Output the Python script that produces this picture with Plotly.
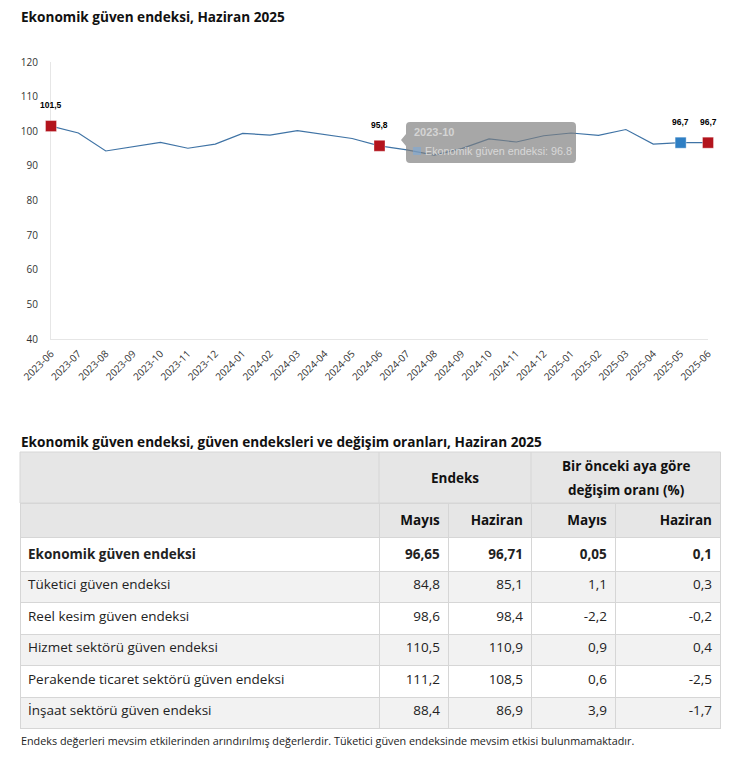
import plotly.graph_objects as go

W, H = 743, 764

# ---------------- data ----------------
months = ["2023-06", "2023-07", "2023-08", "2023-09", "2023-10", "2023-11", "2023-12",
          "2024-01", "2024-02", "2024-03", "2024-04", "2024-05", "2024-06", "2024-07",
          "2024-08", "2024-09", "2024-10", "2024-11", "2024-12", "2025-01", "2025-02",
          "2025-03", "2025-04", "2025-05", "2025-06"]
values = [101.5, 99.5, 94.3, 95.5, 96.8, 95.1, 96.3,
          99.4, 98.9, 100.2, 99.0, 97.9, 95.8, 94.6,
          93.1, 95.0, 97.8, 96.9, 98.7, 99.5, 98.8,
          100.5, 96.3, 96.7, 96.7]
highlight_idx = [0, 12, 23, 24]
highlight_colors = ["#b3141d", "#b3141d", "#2f7fc4", "#b3141d"]
tooltip_idx = 4

row_labels = ["Ekonomik güven endeksi", "Tüketici güven endeksi", "Reel kesim güven endeksi",
              "Hizmet sektörü güven endeksi", "Perakende ticaret sektörü güven endeksi",
              "İnşaat sektörü güven endeksi"]
endeks_mayis = [96.65, 84.8, 98.6, 110.5, 111.2, 88.4]
endeks_haziran = [96.71, 85.1, 98.4, 110.9, 108.5, 86.9]
degisim_mayis = [0.05, 1.1, -2.2, 0.9, 0.6, 3.9]
degisim_haziran = [0.1, 0.3, -0.2, 0.4, -2.5, -1.7]
sub_headers = ["", "Mayıs", "Haziran", "Mayıs", "Haziran"]
group_headers = ["Endeks", "Bir önceki aya göre<br>değişim oranı (%)"]

chart_title = "Ekonomik güven endeksi, Haziran 2025"
table_title = "Ekonomik güven endeksi, güven endeksleri ve değişim oranları, Haziran 2025"
footnote = ("Endeks değerleri mevsim etkilerinden arındırılmış değerlerdir. "
            "Tüketici güven endeksinde mevsim etkisi bulunmamaktadır.")

# ---------------- helpers (pixel -> paper) ----------------
def px(x):
    return x / W


def py(y):
    return 1 - y / H


FONT = "Open Sans"
TFS = 13.5  # table font size
TABLE_TOP = 503
fig = go.Figure()

# line
fig.add_trace(go.Scatter(x=months, y=values, mode="lines",
                         line=dict(color="#3f73a5", width=1.2),
                         hoverinfo="skip", showlegend=False, cliponaxis=False))
# highlighted markers
fig.add_trace(go.Scatter(x=[months[i] for i in highlight_idx],
                         y=[values[i] for i in highlight_idx],
                         mode="markers",
                         marker=dict(symbol="square", size=11, color=highlight_colors,
                                     line=dict(width=1, color="rgba(255,255,255,0.35)")),
                         hoverinfo="skip", showlegend=False, cliponaxis=False))

annotations = []
for i in highlight_idx:
    annotations.append(dict(x=months[i], y=values[i], xref="x", yref="y",
                            text="<b>" + f"{values[i]:.1f}".replace(".", ",") + "</b>",
                            showarrow=False, yshift=21, xanchor="center", yanchor="middle",
                            font=dict(family="Liberation Sans", size=8.5, color="#000")))

# table
def fmt(v):
    return str(v).replace(".", ",")

cols = [row_labels, [fmt(v) for v in endeks_mayis], [fmt(v) for v in endeks_haziran],
        [fmt(v) for v in degisim_mayis], [fmt(v) for v in degisim_haziran]]
cols = [["<b>" + c[0] + "</b>"] + c[1:] for c in cols]
row_fill = ["#ffffff" if r % 2 == 0 else "#f2f2f2" for r in range(len(row_labels))]

fig.add_trace(go.Table(
    domain=dict(x=[px(20), px(720.5)], y=[0, py(TABLE_TOP)]),
    columnwidth=[359, 69, 83, 84, 105],
    header=dict(values=["<b>" + h + "</b>" for h in sub_headers],
                fill_color="#e6e6e6", line=dict(color="#d6d6d6", width=1),
                align=["left", "right", "right", "right", "right"],
                font=dict(family=FONT, size=TFS, color="#111"), height=26),
    cells=dict(values=cols,
               fill_color=[row_fill] * 5, line=dict(color="#d6d6d6", width=1),
               align=["left", "right", "right", "right", "right"],
               font=dict(family=FONT, size=TFS, color="#222"), height=31.5),
))

shapes = []
# merged header row
shapes.append(dict(type="rect", xref="paper", yref="paper", x0=px(20), x1=px(720.5),
                   y0=py(TABLE_TOP), y1=py(452), fillcolor="#e6e6e6",
                   line=dict(color="#d6d6d6", width=1), layer="above"))
for xv in [379, 531]:
    shapes.append(dict(type="line", xref="paper", yref="paper", x0=px(xv), x1=px(xv),
                       y0=py(TABLE_TOP), y1=py(452), line=dict(color="#d6d6d6", width=1),
                       layer="above"))
annotations.append(dict(x=px(455), y=py(478), xref="paper", yref="paper",
                        text="<b>" + group_headers[0] + "</b>", showarrow=False,
                        xanchor="center", yanchor="middle",
                        font=dict(family=FONT, size=TFS, color="#111")))
for k, part in enumerate(group_headers[1].split("<br>")):
    annotations.append(dict(x=px(626), y=py(466 + 24 * k), xref="paper", yref="paper",
                            text="<b>" + part + "</b>", showarrow=False,
                            xanchor="center", yanchor="middle",
                            font=dict(family=FONT, size=TFS, color="#111")))

# tooltip overlay
tx0, tx1, ty0, ty1, r = 406, 576, 122, 163, 4
path = (f"M {px(tx0 + r)},{py(ty0)} L {px(tx1 - r)},{py(ty0)} "
        f"Q {px(tx1)},{py(ty0)} {px(tx1)},{py(ty0 + r)} "
        f"L {px(tx1)},{py(ty1 - r)} Q {px(tx1)},{py(ty1)} {px(tx1 - r)},{py(ty1)} "
        f"L {px(tx0 + r)},{py(ty1)} Q {px(tx0)},{py(ty1)} {px(tx0)},{py(ty1 - r)} "
        f"L {px(tx0)},{py(146)} L {px(401)},{py(140)} L {px(tx0)},{py(134)} "
        f"L {px(tx0)},{py(ty0 + r)} Q {px(tx0)},{py(ty0)} {px(tx0 + r)},{py(ty0)} Z")
shapes.append(dict(type="path", xref="paper", yref="paper", path=path,
                   fillcolor="rgba(125,125,125,0.68)", line=dict(width=0), layer="above"))
shapes.append(dict(type="rect", xref="paper", yref="paper", x0=px(413), x1=px(421),
                   y0=py(155), y1=py(147), fillcolor="rgba(120,170,220,0.55)",
                   line=dict(width=0), layer="above"))
annotations.append(dict(x=px(412), y=py(132), xref="paper", yref="paper", xanchor="left",
                        yanchor="middle",
                        text="<b>" + months[tooltip_idx] + "</b>", showarrow=False,
                        font=dict(family="Liberation Sans", size=11, color="#d4d4d4")))
annotations.append(dict(x=px(423), y=py(151), xref="paper", yref="paper", xanchor="left",
                        yanchor="middle",
                        text=f"Ekonomik güven endeksi: {values[tooltip_idx]}",
                        showarrow=False,
                        font=dict(family="Liberation Sans", size=10.8, color="#d8d8d8")))

# titles
annotations.append(dict(x=px(19), y=py(17), xref="paper", yref="paper", xanchor="left",
                        yanchor="middle",
                        text="<b>" + chart_title + "</b>", showarrow=False,
                        font=dict(family=FONT, size=13.6, color="#111")))
annotations.append(dict(x=px(19), y=py(441), xref="paper", yref="paper", xanchor="left",
                        yanchor="middle",
                        text="<b>" + table_title + "</b>", showarrow=False,
                        font=dict(family=FONT, size=13.6, color="#111")))
annotations.append(dict(x=px(19), y=py(740), xref="paper", yref="paper", xanchor="left",
                        yanchor="middle",
                        text=footnote, showarrow=False,
                        font=dict(family=FONT, size=10.8, color="#222")))

fig.update_layout(
    width=W, height=H, margin=dict(l=0, r=0, t=0, b=0, autoexpand=False),
    paper_bgcolor="white", plot_bgcolor="white",
    showlegend=False, shapes=shapes, annotations=annotations,
    xaxis=dict(domain=[px(51), px(708)], range=[0, len(months) - 1], type="category",
               showgrid=False, zeroline=False, showline=True, linecolor="#e6e6e6",
               tickangle=-45, ticks="", ticklabelstandoff=4, automargin=False,
               layer="below traces",
               tickfont=dict(family=FONT, size=10, color="#333"), fixedrange=True),
    yaxis=dict(domain=[py(339), py(62)], range=[40, 120], dtick=10,
               showgrid=False, zeroline=False, showline=True, linecolor="#e6e6e6",
               ticks="", ticklabelstandoff=10, automargin=False, layer="below traces",
               tickfont=dict(family=FONT, size=10, color="#333"), fixedrange=True),
)

fig.write_html("out.html", config={"displayModeBar": False},
               post_script="document.body.style.margin='0';"
                           "document.body.style.overflow='hidden';")
